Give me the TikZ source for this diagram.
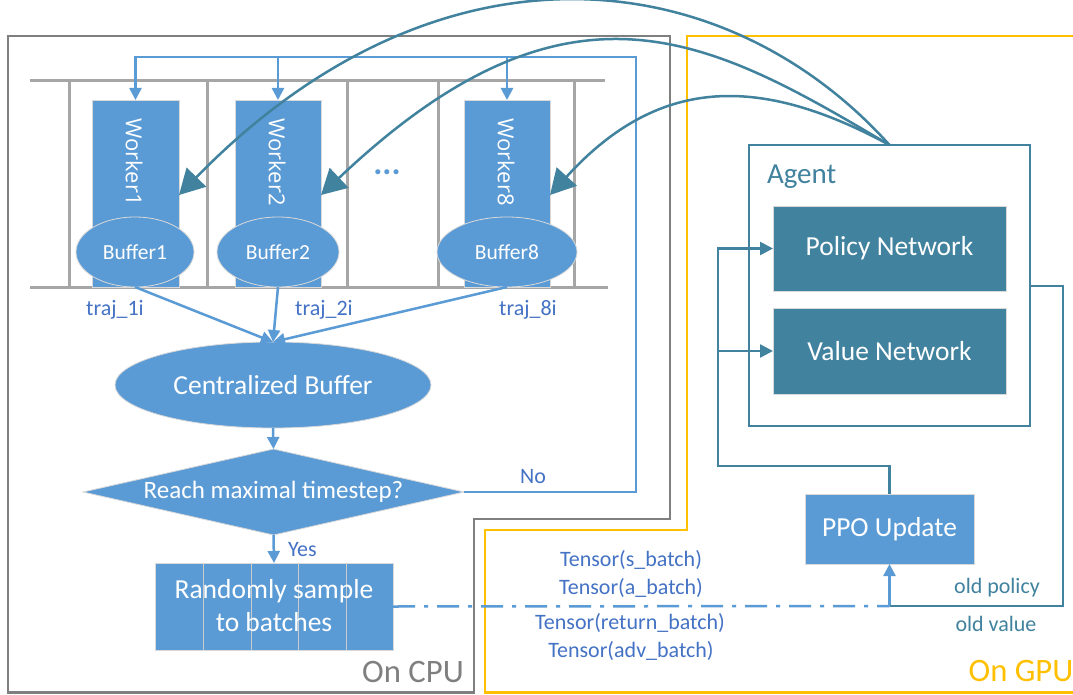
\documentclass[tikz,border=0pt]{standalone}
\usepackage{fontspec}
\setmainfont{Carlito}
\newfontfamily\wfont{Open Sans}
\usetikzlibrary{shapes.geometric,arrows.meta,calc}
\definecolor{bl}{HTML}{5B9BD5}
\definecolor{tx}{HTML}{4472C4}
\definecolor{tl}{HTML}{41829E}
\definecolor{yl}{HTML}{FFC000}
\definecolor{gr}{HTML}{7F7F7F}
\definecolor{rk}{HTML}{A6A6A6}
\begin{document}
\begin{tikzpicture}[x=1pt,y=-1pt,
  every node/.style={inner sep=0pt, outer sep=0pt},
  bfill/.style={fill=bl, draw=black!15, line width=0.8pt, text=white},
  tfill/.style={fill=tl, draw=black!15, line width=0.8pt, text=white},
  bline/.style={draw=bl, line width=2.5pt},
  barrow/.style={bline, -{Triangle[length=12pt,width=12pt]}},
  tline/.style={draw=tl, line width=2.5pt},
  tarrow/.style={tline, -{Triangle[length=13pt,width=13pt]}},
  carrow/.style={draw=tl, line width=2.5pt, -{Triangle[length=25pt,width=27pt]}},
  rack/.style={draw=rk, line width=3pt},
  bigfont/.style={font=\fontsize{27.5pt}{33pt}\selectfont},
  lblfont/.style={font=\fontsize{22pt}{26pt}\selectfont},
  buffont/.style={font=\fontsize{21.5pt}{26pt}\selectfont},
  wtext/.style={text=white, font=\wfont\fontsize{22pt}{26pt}\selectfont, rotate=-90},
]
\path[use as bounding box, fill=white] (0,0) rectangle (1073,695);

% CPU and GPU regions
\draw[gr, line width=2.5pt] (8,36) -- (670,36) -- (670,519) -- (474,519) -- (474,692.5) -- (8,692.5) -- cycle;
\draw[yl, line width=2.5pt] (1074,36) -- (687,36) -- (687,530) -- (485,530) -- (485,692.5) -- (1074,692.5);
\node[text=gr, font=\fontsize{32.7pt}{36pt}\selectfont, anchor=base] (cpu) at (413,682) {On CPU};
\node[text=yl, font=\fontsize{32.7pt}{36pt}\selectfont, anchor=base] (gpu) at (1021,681) {On GPU};

% rack
\draw[rack] (30,81) -- (605,81);
\draw[rack] (30,287) -- (608,287);
\foreach \xx in {69,207,347,438,574} \draw[rack] (\xx,81) -- (\xx,287);

% workers
\node[bfill, minimum width=87pt, minimum height=187pt] (w1) at (135.5,193.5) {};
\node[bfill, minimum width=86pt, minimum height=187pt] (w2) at (278,193.5) {};
\node[bfill, minimum width=86pt, minimum height=187pt] (w8) at (507,193.5) {};
\node[wtext] (w1t) at (134,162) {Worker1};
\node[wtext] (w2t) at (277,162) {Worker2};
\node[wtext] (w8t) at (506,162) {Worker8};
\node[bfill, ellipse, minimum width=118pt, minimum height=70pt, buffont] (b1) at (135,252) {Buffer1};
\node[bfill, ellipse, minimum width=122pt, minimum height=70pt, buffont] (b2) at (278,252) {Buffer2};
\node[bfill, ellipse, minimum width=140pt, minimum height=70pt, buffont] (b8) at (507,252) {Buffer8};
\node[text=bl, font=\fontsize{34pt}{34pt}\selectfont\bfseries] (dots) at (387,172) {...};

\node[text=tx, lblfont] (t1) at (115,310) {traj\_1i};
\node[text=tx, lblfont] (t2) at (324,310) {traj\_2i};
\node[text=tx, lblfont] (t8) at (528,310) {traj\_8i};

% flow
\node[bfill, ellipse, minimum width=316pt, minimum height=86pt, bigfont] (cb) at (273,385) {Centralized Buffer};
\node[bfill, diamond, aspect=4.4, minimum width=381pt, minimum height=86pt, font=\fontsize{25pt}{29pt}\selectfont] (dia) at (273.5,492) {Reach maximal timestep?};
\node[bfill, minimum width=238pt, minimum height=87pt] (rand) at (274,606.5) {};
\foreach \dx in {48,96,143,191}
  \draw[draw=black!20, line width=1pt] ([xshift=\dx pt]rand.north west) -- ([xshift=\dx pt]rand.south west);
\node[text=white, bigfont, align=center] (randt) at (274,606) {Randomly sample\\to batches};

\draw[barrow] (b1.south) -- (cb.north);
\draw[barrow] (b2.south) -- (cb.north);
\draw[barrow] (b8.south) -- (cb.north);
\draw[barrow] (cb.south) -- (dia.north);
\draw[barrow] (dia.south) -- (rand.north);

\coordinate (nr) at (636,492);
\coordinate (nt) at (636,57);
\draw[barrow] (dia.east) -- (nr) -- (nt) -| (w1.north);
\draw[barrow] (w2.north |- nt) -- (w2.north);
\draw[barrow] (w8.north |- nt) -- (w8.north);
\node[text=tx, lblfont] (no) at (533,477) {No};
\node[text=tx, lblfont, anchor=west] (yes) at (288,550) {Yes};

% GPU side
\node[draw=tl, line width=2.5pt, minimum width=281pt, minimum height=281pt] (agent) at (889.5,285.5) {};
\node[text=tl, font=\fontsize{29pt}{34pt}\selectfont, anchor=base west] (agentl) at (767,184) {Agent};
\node[tfill, minimum width=233pt, minimum height=85pt, bigfont] (pol) at (889.5,248.5) {Policy Network};
\node[tfill, minimum width=233pt, minimum height=86pt, bigfont] (val) at (889.5,351) {Value Network};
\node[bfill, minimum width=169pt, minimum height=70pt, bigfont] (ppo) at (889.5,529) {PPO Update};

\coordinate (pj) at (889.5,606);
\draw[draw=bl, line width=2.5pt, dash pattern=on 22pt off 9pt on 4pt off 9pt] (rand.east) -- (pj);
\draw[barrow] (pj) -- (ppo.south);

\coordinate (rc1) at (1063,286);
\coordinate (rc2) at (1063,606);
\draw[tline] (agent.east |- rc1) -- (rc1) -- (rc2) -- (pj);
\coordinate (c1) at (889.5,466);
\coordinate (c2) at (718,466);
\draw[tarrow] (ppo.north) -- (c1) -- (c2) |- (pol.west);
\draw[tarrow] (c2 |- val.west) -- (val.west);

\node[text=tx, lblfont] (ts) at (631,560) {Tensor(s\_batch)};
\node[text=tx, lblfont] (ta) at (631,588) {Tensor(a\_batch)};
\node[text=tx, lblfont] (tr) at (630,623) {Tensor(return\_batch)};
\node[text=tx, lblfont] (tv) at (631,651) {Tensor(adv\_batch)};
\node[text=tl, lblfont] (op) at (997,588) {old policy};
\node[text=tl, lblfont] (ov) at (996,624) {old value};

% curved arrows from agent to workers
\coordinate (a1) at ($(w1.north east)+(0,95)$);
\coordinate (a2) at ($(w2.north east)+(0,95)$);
\coordinate (a8) at ($(w8.north east)+(0,95)$);
\draw[carrow] (agent.north) .. controls (725,-38) and (440,-72) .. (a1);
\draw[carrow] (agent.north) .. controls (712,40) and (571,-42) .. (a2);
\draw[carrow] (agent.north) .. controls (762,76) and (660,74) .. (a8);
\end{tikzpicture}
\end{document}
